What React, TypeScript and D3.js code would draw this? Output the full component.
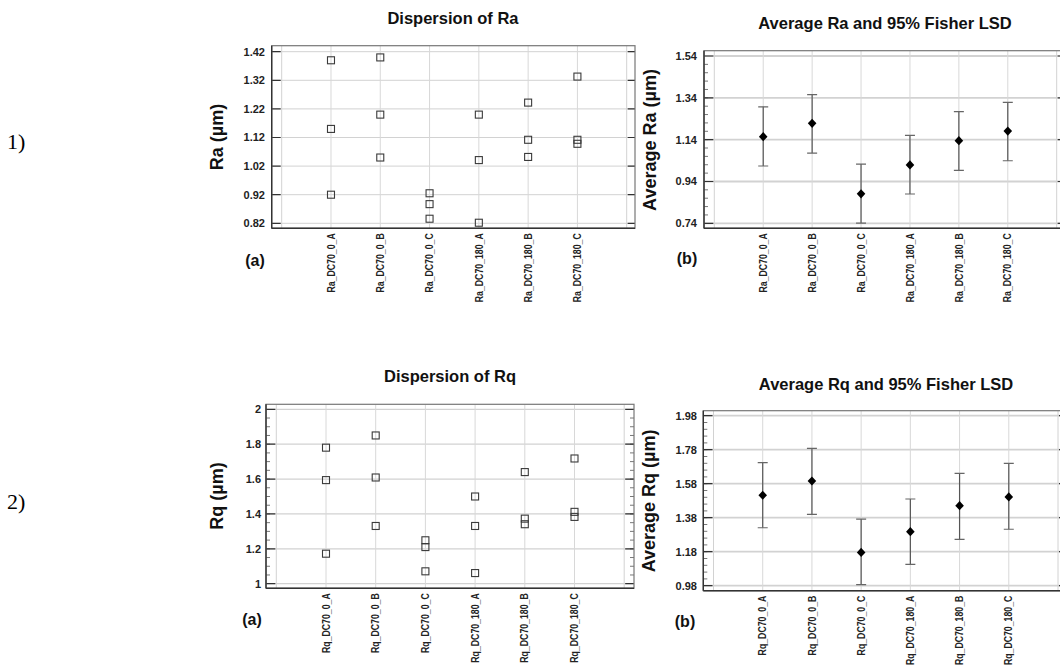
import React from "react";
import * as d3 from "d3";

// ---------- DATA ----------
const raCategories = ["Ra_DC70_0_A", "Ra_DC70_0_B", "Ra_DC70_0_C", "Ra_DC70_180_A", "Ra_DC70_180_B", "Ra_DC70_180_C"];
const rqCategories = ["Rq_DC70_0_A", "Rq_DC70_0_B", "Rq_DC70_0_C", "Rq_DC70_180_A", "Rq_DC70_180_B", "Rq_DC70_180_C"];

const raDispersion = [
  [1.39, 1.15, 0.92],
  [1.40, 1.20, 1.05],
  [0.925, 0.887, 0.836],
  [1.20, 1.041, 0.822],
  [1.242, 1.112, 1.052],
  [1.333, 1.112, 1.098],
];
const rqDispersion = [
  [1.78, 1.594, 1.172],
  [1.85, 1.609, 1.331],
  [1.249, 1.21, 1.071],
  [1.50, 1.331, 1.061],
  [1.64, 1.373, 1.341],
  [1.718, 1.412, 1.383],
];

const raMeans = [1.154, 1.218, 0.881, 1.019, 1.135, 1.181];
const raLower = [1.014, 1.076, 0.741, 0.880, 0.993, 1.039];
const raUpper = [1.297, 1.355, 1.023, 1.160, 1.274, 1.318];

const rqMeans = [1.512, 1.596, 1.176, 1.298, 1.451, 1.502];
const rqLower = [1.321, 1.400, 0.986, 1.106, 1.253, 1.312];
const rqUpper = [1.704, 1.788, 1.372, 1.490, 1.641, 1.700];

const raDispTicks = [0.82, 0.92, 1.02, 1.12, 1.22, 1.32, 1.42];
const raMeanTicks = [0.74, 0.94, 1.14, 1.34, 1.54];
const rqDispTicks = [1, 1.2, 1.4, 1.6, 1.8, 2];
const rqMeanTicks = [0.98, 1.18, 1.38, 1.58, 1.78, 1.98];

const titles = ["Dispersion of Ra", "Average Ra and 95% Fisher LSD", "Dispersion of Rq", "Average Rq and 95% Fisher LSD"];
const yLabels = ["Ra (\u00b5m)", "Average Ra (\u00b5m)", "Rq (\u00b5m)", "Average Rq (\u00b5m)"];
const panelTags = ["(a)", "(b)", "(a)", "(b)"];
const rowTags = ["1)", "2)"];

// ---------- LAYOUT ----------
const SANS = "'Liberation Sans', Arial, sans-serif";

type Box = { l: number; r: number; t: number; b: number };
type PanelProps = {
  frame: Box;
  inner: Box;
  ticks: number[];
  minorStep: number;
  categories: string[];
  title: string;
  titlePos: [number, number];
  yLabel: string;
  yLabelPos: [number, number];
  tag: string;
  tagPos: [number, number];
  tickLabelRight: number;
  gridWidth: number;
  dispersion?: number[][];
  means?: number[];
  lower?: number[];
  upper?: number[];
};

function Panel(p: PanelProps) {
  const { frame, inner, ticks } = p;
  const x = d3.scaleLinear().domain([0, 7]).range([inner.l, inner.r]);
  const y = d3.scaleLinear().domain([d3.min(ticks)!, d3.max(ticks)!]).range([inner.b, inner.t]);
  const lo = d3.min(ticks)!;
  const hi = d3.max(ticks)!;
  const minors: number[] = [];
  if (p.minorStep > 0) {
    const n = Math.round((hi - lo) / p.minorStep);
    for (let i = 1; i < n; i++) minors.push(lo + i * p.minorStep);
  }
  const sq = 7;
  const diamondPath = "M0,-4.6L4.3,0L0,4.6L-4.3,0Z";
  const clipId = "clip" + p.title.replace(/[^a-zA-Z]/g, "");
  return (
    <g>
      <defs>
        <clipPath id={clipId}>
          <rect x={frame.l} y={frame.t} width={frame.r - frame.l} height={frame.b - frame.t} />
        </clipPath>
      </defs>
      <g clipPath={`url(#${clipId})`}>
        {ticks.map((t) => (
          <line key={"h" + t} x1={frame.l} x2={frame.r} y1={y(t)} y2={y(t)} stroke="#d2d2d2" strokeWidth={p.gridWidth} />
        ))}
        <line x1={inner.l} x2={inner.l} y1={frame.t} y2={frame.b} stroke="#d2d2d2" strokeWidth={1} />
        <line x1={inner.r} x2={inner.r} y1={frame.t} y2={frame.b} stroke="#d2d2d2" strokeWidth={1} />
        {p.categories.map((c, i) => (
          <line key={"v" + c} x1={x(i + 1)} x2={x(i + 1)} y1={frame.t} y2={frame.b} stroke="#d8d8d8" strokeWidth={1} />
        ))}
        {minors.map((m) => (
          <g key={"m" + m}>
            <line x1={frame.l} x2={frame.l + 4} y1={y(m)} y2={y(m)} stroke="#777" strokeWidth={1} />
            <line x1={frame.r} x2={frame.r - 4} y1={y(m)} y2={y(m)} stroke="#777" strokeWidth={1} />
          </g>
        ))}
        {ticks.map((t) => (
          <g key={"t" + t}>
            <line x1={frame.l} x2={inner.l - 1} y1={y(t)} y2={y(t)} stroke="#333" strokeWidth={1.2} />
            <line x1={frame.r} x2={inner.r + 1} y1={y(t)} y2={y(t)} stroke="#333" strokeWidth={1.2} />
          </g>
        ))}
        {p.dispersion &&
          p.dispersion.map((vals, i) =>
            vals.map((v, j) => (
              <rect
                key={`s${i}-${j}`}
                x={x(i + 1) - sq / 2}
                y={y(v) - sq / 2}
                width={sq}
                height={sq}
                fill="none"
                stroke="#3a3a3a"
                strokeWidth={1.1}
              />
            ))
          )}
        {p.means &&
          p.means.map((m, i) => {
            const cx = x(i + 1);
            const yl = y(p.lower![i]);
            const yu = y(p.upper![i]);
            return (
              <g key={"e" + i}>
                <line x1={cx} x2={cx} y1={yu} y2={yl} stroke="#555" strokeWidth={1.2} />
                <line x1={cx - 5} x2={cx + 5} y1={yu} y2={yu} stroke="#666" strokeWidth={1.2} />
                <line x1={cx - 5} x2={cx + 5} y1={yl} y2={yl} stroke="#666" strokeWidth={1.2} />
                <path d={diamondPath} transform={`translate(${cx},${y(m)})`} fill="#000" />
              </g>
            );
          })}
      </g>
      <rect x={frame.l} y={frame.t} width={frame.r - frame.l} height={frame.b - frame.t} fill="none" stroke="#777" strokeWidth={1.2} />
      <line x1={frame.l} x2={frame.l} y1={frame.t} y2={frame.b} stroke="#333" strokeWidth={1.4} />
      <line x1={frame.l} x2={frame.r} y1={frame.b} y2={frame.b} stroke="#333" strokeWidth={1.4} />
      {ticks.map((t) => (
        <text
          key={"yl" + t}
          x={p.tickLabelRight}
          y={y(t)}
          dy="0.35em"
          textAnchor="end"
          fontFamily={SANS}
          fontWeight="bold"
          fontSize={11}
          fill="#222"
        >
          {String(t)}
        </text>
      ))}
      {p.categories.map((c, i) => (
        <text
          key={"xl" + c}
          transform={`translate(${x(i + 1)},${frame.b + 5}) rotate(-90) scale(0.92,1.1)`}
          textAnchor="end"
          dy="0.35em"
          fontFamily={SANS}
          fontWeight="bold"
          fontSize={9.5}
          fill="#222"
        >
          {c}
        </text>
      ))}
      <text x={p.titlePos[0]} y={p.titlePos[1]} textAnchor="middle" fontFamily={SANS} fontWeight="bold" fontSize={16.5} fill="#111">
        {p.title}
      </text>
      <text
        transform={`translate(${p.yLabelPos[0]},${p.yLabelPos[1]}) rotate(-90)`}
        textAnchor="middle"
        dy="0.35em"
        fontFamily={SANS}
        fontWeight="bold"
        fontSize={18}
        fill="#111"
      >
        {p.yLabel}
      </text>
      <text x={p.tagPos[0]} y={p.tagPos[1]} textAnchor="middle" fontFamily={SANS} fontWeight="bold" fontSize={16} fill="#111">
        {p.tag}
      </text>
    </g>
  );
}

export default function App() {
  return (
    <svg
      width={1060}
      height={668}
      style={{ position: "absolute", left: 0, top: 0, background: "#fff", overflow: "hidden" }}
    >
      <rect x={0} y={0} width={1060} height={668} fill="#fff" />
      <text x={7} y={149} fontFamily="'Liberation Serif', 'Times New Roman', serif" fontSize={22} fill="#000">
        {rowTags[0]}
      </text>
      <text x={7} y={509} fontFamily="'Liberation Serif', 'Times New Roman', serif" fontSize={22} fill="#000">
        {rowTags[1]}
      </text>
      <Panel
        frame={{ l: 271.7, r: 635, t: 45.7, b: 228.3 }}
        inner={{ l: 281.7, r: 626.7, t: 51.7, b: 223.3 }}
        ticks={raDispTicks}
        minorStep={0}
        categories={raCategories}
        title={titles[0]}
        titlePos={[453, 24]}
        yLabel={yLabels[0]}
        yLabelPos={[217, 137]}
        tag={panelTags[0]}
        tagPos={[255, 266]}
        tickLabelRight={265}
        gridWidth={1}
        dispersion={raDispersion}
      />
      <Panel
        frame={{ l: 704, r: 1066, t: 50.7, b: 228.3 }}
        inner={{ l: 714.3, r: 1056.7, t: 56, b: 223.3 }}
        ticks={raMeanTicks}
        minorStep={0.04}
        categories={raCategories}
        title={titles[1]}
        titlePos={[885, 29]}
        yLabel={yLabels[1]}
        yLabelPos={[650, 140]}
        tag={panelTags[1]}
        tagPos={[687, 264]}
        tickLabelRight={697}
        gridWidth={1.8}
        means={raMeans}
        lower={raLower}
        upper={raUpper}
      />
      <Panel
        frame={{ l: 266, r: 634, t: 404.3, b: 588.3 }}
        inner={{ l: 276.3, r: 624.2, t: 409.3, b: 583.7 }}
        ticks={rqDispTicks}
        minorStep={0.05}
        categories={rqCategories}
        title={titles[2]}
        titlePos={[450, 382]}
        yLabel={yLabels[2]}
        yLabelPos={[217, 496]}
        tag={panelTags[2]}
        tagPos={[252, 625]}
        tickLabelRight={261}
        gridWidth={1.2}
        dispersion={rqDispersion}
      />
      <Panel
        frame={{ l: 703.3, r: 1068, t: 410.7, b: 590.7 }}
        inner={{ l: 713.5, r: 1058, t: 415.7, b: 585.7 }}
        ticks={rqMeanTicks}
        minorStep={0.04}
        categories={rqCategories}
        title={titles[3]}
        titlePos={[886, 390]}
        yLabel={yLabels[3]}
        yLabelPos={[649, 501]}
        tag={panelTags[3]}
        tagPos={[685, 627]}
        tickLabelRight={697}
        gridWidth={1.8}
        means={rqMeans}
        lower={rqLower}
        upper={rqUpper}
      />
    </svg>
  );
}
